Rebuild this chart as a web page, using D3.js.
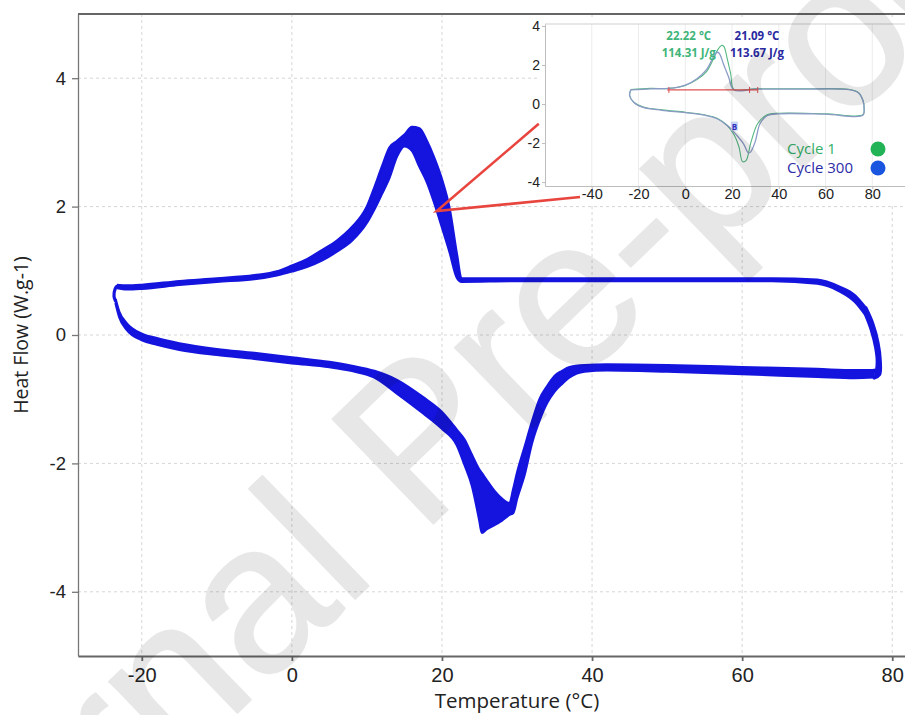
<!DOCTYPE html>
<html lang="en">
<head>
<meta charset="UTF-8">
<title>DSC cycling</title>
<style>
  body { margin: 0; background: #fff; }
  svg { display: block; font-family: "Open Sans", sans-serif; }
  .grid line { stroke: #d6d6d6; stroke-dasharray: 3,3; }
  .igrid line { stroke: #ececec; }
</style>
</head>
<body>
<svg width="905" height="715"></svg>
<script src="https://cdn.jsdelivr.net/npm/d3@7.8.5/dist/d3.min.js"></script>
<script>
// ---- values ----
const xTicks = [-20, 0, 20, 40, 60, 80]
const yTicks = [-4, -2, 0, 2, 4]

// heating branch: upper and lower edge of the bundle of cycles
const heatT  = [-23.3, -22, -20, -15, -10, -5, -2, 0, 2, 4, 6, 8, 10, 11, 12, 13, 14, 15, 16, 17, 18, 19, 20, 21, 22, 22.6, 30, 50, 64, 70, 73, 75, 76.5]
const heatHi = [0.78, 0.77, 0.78, 0.84, 0.88, 0.93, 0.99, 1.08, 1.18, 1.32, 1.47, 1.68, 2.0, 2.3, 2.62, 2.92, 3.02, 3.12, 3.24, 3.22, 3.02, 2.75, 2.42, 1.98, 1.25, 0.88, 0.88, 0.88, 0.88, 0.86, 0.75, 0.62, 0.42]
const heatLo = [0.73, 0.71, 0.72, 0.78, 0.83, 0.87, 0.93, 0.99, 1.06, 1.16, 1.3, 1.47, 1.75, 1.96, 2.2, 2.45, 2.78, 2.94, 2.87, 2.62, 2.38, 2.05, 1.68, 1.3, 0.89, 0.83, 0.84, 0.84, 0.84, 0.8, 0.68, 0.52, 0.3]

// cooling branch
const coolT  = [-23.5, -23, -22, -20, -18, -15, -10, -5, 0, 5, 8, 11, 14, 17.5, 20, 22, 23, 24, 25, 25.3, 26, 27, 28, 29, 29.5, 30, 31, 32, 33, 34, 35, 36, 37, 39, 42, 50, 60, 70, 75, 77.6]
const coolHi = [0.56, 0.36, 0.18, 0.02, -0.05, -0.13, -0.22, -0.28, -0.35, -0.42, -0.48, -0.56, -0.7, -0.97, -1.2, -1.48, -1.63, -1.87, -2.1, -2.15, -2.27, -2.43, -2.55, -2.62, -2.4, -2.15, -1.75, -1.35, -1.0, -0.8, -0.64, -0.56, -0.5, -0.47, -0.46, -0.47, -0.5, -0.53, -0.55, -0.55]
const coolLo = [0.5, 0.28, 0.08, -0.08, -0.15, -0.23, -0.31, -0.37, -0.44, -0.5, -0.56, -0.66, -0.91, -1.22, -1.46, -1.72, -2.02, -2.35, -2.9, -3.08, -3.02, -2.96, -2.89, -2.8, -2.77, -2.55, -2.18, -1.68, -1.33, -1.06, -0.88, -0.76, -0.66, -0.57, -0.55, -0.57, -0.61, -0.65, -0.67, -0.66]

// turning points at both temperature ends
const leftEnd       = [[-23.5, 0.53], [-23.7, 0.6], [-23.55, 0.72], [-23.3, 0.76]]
const rightEndOuter = [[76.5, 0.42], [77.4, 0.18], [78.1, -0.12], [78.4, -0.4], [78.3, -0.62], [77.6, -0.67]]
const rightEndInner = [[76.5, 0.3], [77.2, 0.08], [77.8, -0.2], [78.0, -0.42], [77.8, -0.56], [77.6, -0.55]]

// red zoom call-out (data point -> inset corners)
const callout = [[32.9, 3.29], [19.3, 1.93], [38.4, 2.15]]

// inset
const insetXTicks = [-40, -20, 0, 20, 40, 60, 80]
const insetYTicks = [-4, -2, 0, 2, 4]
const insetCycle1 = [[-23.3, 0.74], [-15, 0.8], [-7, 0.8], [0, 0.95], [5, 1.25], [9, 1.65], [12, 2.3], [14, 2.8], [15.5, 3.0], [16.5, 2.95], [18, 2.3], [19.5, 1.5], [20.8, 0.75], [30, 0.78], [50, 0.78], [70, 0.75], [74, 0.6], [76, 0.2], [76.5, -0.2], [76, -0.55], [60, -0.5], [40, -0.47], [35, -0.55], [31, -1.0], [28, -2.0], [26, -2.9], [24.5, -2.95], [23, -2.2], [21, -1.6], [18, -1.1], [14, -0.75], [8, -0.55], [0, -0.42], [-10, -0.3], [-18, -0.15], [-22, 0.1], [-23.8, 0.45], [-23.3, 0.74]]
const insetCycle300 = [[-23.3, 0.72], [-15, 0.78], [-7, 0.8], [0, 0.97], [5, 1.3], [9, 1.75], [12, 2.4], [13.5, 2.65], [14.5, 2.6], [16.5, 2.0], [18.5, 1.4], [20.8, 0.72], [30, 0.76], [50, 0.76], [70, 0.74], [74, 0.58], [76, 0.18], [76.5, -0.2], [76, -0.58], [60, -0.52], [40, -0.5], [35, -0.6], [32, -1.0], [30, -1.9], [28, -2.45], [27, -2.5], [25, -2.05], [22, -1.6], [18, -1.1], [14, -0.78], [8, -0.57], [0, -0.44], [-10, -0.32], [-18, -0.17], [-22, 0.08], [-23.8, 0.43], [-23.3, 0.72]]
const insetBaseline = [[-7.7, 0.72], [31, 0.72]]
const insetBaseTicks = [-7, 27.5, 31]
const insetLabels = [
  { t: '22.22 °C',   x: 1.5,  y: 3.3, c: '#3fb57a' },
  { t: '114.31 J/g', x: 1.5,  y: 2.4, c: '#3fb57a' },
  { t: '21.09 °C',   x: 30.7, y: 3.3, c: '#2a2aa0' },
  { t: '113.67 J/g', x: 30.7, y: 2.4, c: '#2a2aa0' }
]
const legend = [
  { name: 'Cycle 1',   text: '#33b066', dot: '#22b356' },
  { name: 'Cycle 300', text: '#2c2ca8', dot: '#1a55e0' }
]

const W = 905, H = 715
const svg = d3.select('svg')
const blue = '#1414de'

const x = d3.scaleLinear().domain([-28.5, 81.7]).range([78, 905])
const y = d3.scaleLinear().domain([-5, 5]).range([656, 14])

// grid
const grid = svg.append('g').attr('class', 'grid')
grid.selectAll('.gx').data(xTicks).join('line')
  .attr('x1', d => x(d)).attr('x2', d => x(d)).attr('y1', y(5)).attr('y2', y(-5))
grid.selectAll('.gy').data(yTicks).join('line')
  .attr('y1', d => y(d)).attr('y2', d => y(d)).attr('x1', x(-28.5)).attr('x2', W)

// axes
const yAxis = svg.append('g').attr('transform', `translate(${x(-28.5)},0)`)
  .call(d3.axisLeft(y).tickValues(yTicks).tickFormat(d => String(d)).tickSize(6).tickSizeOuter(0))
const xAxis = svg.append('g').attr('transform', `translate(0,${y(-5)})`)
  .call(d3.axisBottom(x).tickValues(xTicks).tickFormat(d => String(d)).tickSize(5).tickSizeOuter(0))
yAxis.selectAll('path, line').attr('stroke', '#777').attr('stroke-width', 1.3)
xAxis.selectAll('path, line').attr('stroke', '#666').attr('stroke-width', 1.8)
yAxis.selectAll('text').attr('font-size', 18.5).attr('fill', '#222').attr('x', -12)
xAxis.selectAll('text').attr('font-size', 20).attr('fill', '#222').attr('dy', '0.9em')
svg.append('line').attr('x1', x(-28.5)).attr('x2', W).attr('y1', y(5)).attr('y2', y(5))
  .attr('stroke', '#666').attr('stroke-width', 1.8)

svg.append('text').attr('x', 517).attr('y', 708).attr('text-anchor', 'middle')
  .attr('font-size', 20.5).attr('fill', '#222').text('Temperature (°C)')
svg.append('text').attr('transform', `translate(28,${y(0)}) rotate(-90)`).attr('text-anchor', 'middle')
  .attr('font-size', 19.5).attr('fill', '#222').text('Heat Flow (W.g-1)')

// curves
const band = (T, hi, lo) => T.map((t, i) => ({ t, hi: hi[i], lo: lo[i] }))
const area = d3.area().x(d => x(d.t)).y0(d => y(d.lo)).y1(d => y(d.hi)).curve(d3.curveMonotoneX)
const edge = k => d3.line().x(d => x(d.t)).y(d => y(d[k])).curve(d3.curveMonotoneX)
const pline = d3.line().x(d => x(d[0])).y(d => y(d[1])).curve(d3.curveCatmullRom)
const curves = svg.append('g')
for (const b of [band(heatT, heatHi, heatLo), band(coolT, coolHi, coolLo)]) {
  curves.append('path').datum(b).attr('d', area).attr('fill', blue)
  for (const k of ['hi', 'lo'])
    curves.append('path').datum(b).attr('d', edge(k)).attr('fill', 'none')
      .attr('stroke', blue).attr('stroke-width', 2.4).attr('stroke-linejoin', 'round')
}
// right end: fill between outer and inner turn
curves.append('path').datum(rightEndOuter.concat(rightEndInner.slice().reverse()))
  .attr('d', d3.line().x(d => x(d[0])).y(d => y(d[1])).curve(d3.curveLinearClosed))
  .attr('fill', blue).attr('stroke', blue).attr('stroke-width', 1)
for (const e of [leftEnd, rightEndOuter, rightEndInner])
  curves.append('path').datum(e).attr('d', pline).attr('fill', 'none')
    .attr('stroke', blue).attr('stroke-width', 3.2).attr('stroke-linecap', 'round')

// inset
const ix = d3.scaleLinear().domain([-60, 94]).range([545, 905])
const iy = d3.scaleLinear().domain([-4.2, 4.1]).range([186, 24])
const inset = svg.append('g')
inset.append('rect').attr('x', 538).attr('y', 17).attr('width', W - 538).attr('height', 186).attr('fill', '#fff')
const ig = inset.append('g').attr('class', 'igrid')
ig.selectAll('line.v').data(insetXTicks).join('line').attr('class', 'v')
  .attr('x1', d => ix(d)).attr('x2', d => ix(d)).attr('y1', iy(4.1)).attr('y2', iy(-4.2))
inset.append('line').attr('x1', ix(-60)).attr('x2', W).attr('y1', iy(4.1)).attr('y2', iy(4.1)).attr('stroke', '#cfcfcf')
const iyAxis = inset.append('g').attr('transform', `translate(${ix(-60)},0)`)
  .call(d3.axisLeft(iy).tickValues(insetYTicks).tickFormat(d => String(d)).tickSize(3).tickSizeOuter(0))
const ixAxis = inset.append('g').attr('transform', `translate(0,${iy(-4.2)})`)
  .call(d3.axisBottom(ix).tickValues(insetXTicks).tickFormat(d => String(d)).tickSize(3).tickSizeOuter(0))
inset.selectAll('path.domain').attr('stroke', '#bdbdbd')
inset.selectAll('.tick line').attr('stroke', '#bdbdbd')
iyAxis.selectAll('text').attr('font-size', 14).attr('fill', '#222').attr('x', -5)
ixAxis.selectAll('text').attr('font-size', 14.5).attr('fill', '#222').attr('dy', '0.5em')

const iline = d3.line().x(d => ix(d[0])).y(d => iy(d[1])).curve(d3.curveCatmullRom)
inset.append('path').datum(insetCycle1).attr('d', iline).attr('fill', 'none').attr('stroke', '#55b882').attr('stroke-width', 1.1)
inset.append('path').datum(insetCycle300).attr('d', iline).attr('fill', 'none').attr('stroke', '#8b9bc6').attr('stroke-width', 1.3)
inset.append('path').datum(insetBaseline).attr('d', iline).attr('stroke', '#e05050').attr('stroke-width', 1.2)
inset.selectAll('line.bt').data(insetBaseTicks).join('line').attr('class', 'bt')
  .attr('x1', d => ix(d)).attr('x2', d => ix(d)).attr('y1', iy(0.72) - 3).attr('y2', iy(0.72) + 3)
  .attr('stroke', '#e05050').attr('stroke-width', 1)
inset.selectAll('text.lab').data(insetLabels).join('text').attr('class', 'lab')
  .attr('x', d => ix(d.x)).attr('y', d => iy(d.y)).attr('text-anchor', 'middle')
  .attr('font-size', 11.5).attr('font-weight', 'bold').attr('fill', d => d.c).text(d => d.t)
inset.append('rect').attr('x', ix(19.5)).attr('y', iy(-0.9)).attr('width', 7).attr('height', 9).attr('fill', '#c8d4f4')
inset.append('text').attr('x', ix(19.5) + 3.5).attr('y', iy(-0.9) + 8).attr('text-anchor', 'middle')
  .attr('font-size', 8).attr('font-weight', 'bold').attr('fill', '#3030c0').text('B')
const lg = inset.selectAll('g.lg').data(legend).join('g').attr('class', 'lg')
  .attr('transform', (d, i) => `translate(0,${149 + i * 19})`)
lg.append('text').attr('x', 787).attr('dy', '0.35em').attr('font-size', 15).attr('fill', d => d.text).text(d => d.name)
lg.append('circle').attr('cx', 878).attr('r', 7.5).attr('fill', d => d.dot)

// red call-out lines
svg.append('path').datum(callout).attr('d', d3.line().x(d => x(d[0])).y(d => y(d[1])))
  .attr('fill', 'none').attr('stroke', '#e8453f').attr('stroke-width', 2.6)

// watermark
svg.append('g').attr('opacity', 0.09)
  .append('text').attr('transform', 'translate(-119,1057) rotate(-44)')
  .attr('font-family', '"Liberation Sans", Arial, sans-serif').attr('font-size', 211)
  .attr('fill', '#000').attr('stroke', '#000').attr('stroke-width', 2).attr('stroke-linejoin', 'round')
  .text('Journal Pre-proof')
</script>
</body>
</html>
